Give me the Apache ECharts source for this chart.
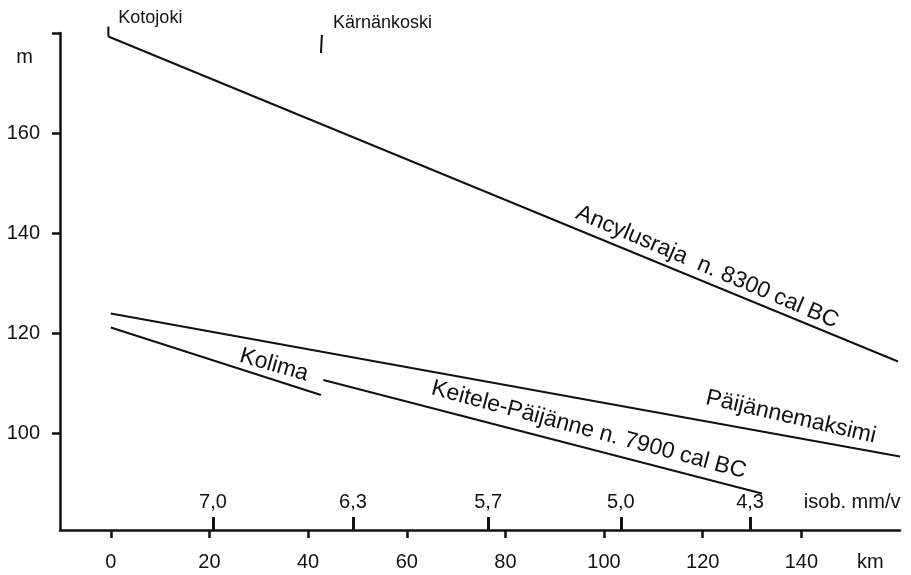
<!DOCTYPE html>
<html>
<head>
<meta charset="utf-8">
<script src="https://cdn.jsdelivr.net/npm/echarts@6/dist/echarts.min.js"></script>
<style>html,body{margin:0;padding:0;background:#fff}#c{width:911px;height:575px}</style>
</head>
<body>
<div id="c"></div>
<script>
// ---- data ----
const kmTicks = [0, 20, 40, 60, 80, 100, 120, 140];
const kmUnitAt = 154;
const mTicks = [100, 120, 140, 160, 180];
const mTickLabels = ['100', '120', '140', '160', ''];
const isobKm = [20.7, 49.1, 76.5, 103.4, 129.6];
const isobLabels = ['7,0', '6,3', '5,7', '5,0', '4,3'];
const isobUnitAt = 150.3;

const ancylusKm = [-0.5, 159.6];
const ancylusM = [179.3, 114.3];
const maksimiKm = [0, 160.0];
const maksimiM = [123.9, 95.3];
const kolimaKm = [0, 42.6];
const kolimaM = [121.1, 107.6];
const keiteleKm = [43.1, 132.0];
const keiteleM = [110.6, 87.9];

const kotojokiKm = [-0.5, -0.5];
const kotojokiM = [181.3, 179.3];
const karnanKm = [42.8, 42.6];
const karnanM = [179.6, 176.0];

const captionText = ['Ancylusraja  n. 8300 cal BC', 'Kolima', 'Keitele-Päijänne n. 7900 cal BC', 'Päijännemaksimi'];
const captionKm = [120.9, 33.1, 96.9, 137.9];
const captionM = [133.2, 113.6, 100.6, 103.2];

// ---- build ----
const pairs = (xs, ys) => xs.map((x, i) => [x, ys[i]]);
const captionRotate = [-23, -16, -15, -13];
const captionSize = [23, 23, 23, 23];
const ink = '#111';
const font = 'Liberation Sans, Arial, sans-serif';
const tickFont = 20;

const lineSeries = (name, data) => ({
  name, type: 'line', data, symbol: 'circle', symbolSize: 0, showSymbol: true, silent: true, clip: false,
  lineStyle: { color: ink, width: 2 }, itemStyle: { color: ink, opacity: 1 }
});
const placeLabel = (text, dist, off) => ({
  show: true, formatter: text, position: 'right', distance: dist, offset: off,
  color: ink, fontSize: 18, fontFamily: font, textBorderWidth: 0, opacity: 1
});

const chart = echarts.init(document.getElementById('c'), null, { renderer: 'canvas' });
chart.setOption({
  animation: false,
  backgroundColor: '#fff',
  grid: { left: 60, right: 11, top: 33, bottom: 45, containLabel: false },
  xAxis: [{
    type: 'value', min: -10.3, max: 160,
    splitLine: { show: false },
    axisLine: { show: true, onZero: false, lineStyle: { color: ink, width: 2.5 } },
    axisTick: { show: true, customValues: kmTicks, length: 8, lineStyle: { color: ink, width: 2.5 } },
    axisLabel: {
      customValues: kmTicks.concat([kmUnitAt]), margin: 22, color: ink, fontSize: tickFont, fontFamily: font,
      formatter: v => v === kmUnitAt ? 'km' : String(v)
    }
  }, {
    type: 'value', min: -10.3, max: 160, position: 'bottom',
    splitLine: { show: false },
    axisLine: { show: false },
    axisTick: { show: true, inside: true, customValues: isobKm, length: 13, lineStyle: { color: ink, width: 3 } },
    axisLabel: {
      inside: true, customValues: isobKm.concat([isobUnitAt]), margin: 18, color: ink, fontSize: tickFont, fontFamily: font,
      formatter: v => { if (v === isobUnitAt) return 'isob. mm/v'; const i = isobKm.indexOf(v); return i >= 0 ? isobLabels[i] : ''; }
    }
  }],
  yAxis: {
    type: 'value', min: 80.6, max: 180,
    splitLine: { show: false },
    axisLine: { show: true, onZero: false, lineStyle: { color: ink, width: 2.5 } },
    axisTick: { show: true, customValues: mTicks, length: 8, lineStyle: { color: ink, width: 2.5 } },
    axisLabel: {
      customValues: mTicks, margin: 20, color: ink, fontSize: tickFont, fontFamily: font,
      formatter: v => { const i = mTicks.indexOf(v); return i >= 0 ? mTickLabels[i] : ''; }
    },
    name: 'm', nameLocation: 'end', nameGap: -24,
    nameTextStyle: { color: ink, fontSize: tickFont, fontFamily: font, align: 'right', verticalAlign: 'middle', padding: [0, 27, 0, 0] }
  },
  series: [
    lineSeries('Ancylusraja', pairs(ancylusKm, ancylusM)),
    lineSeries('Päijännemaksimi', pairs(maksimiKm, maksimiM)),
    lineSeries('Kolima', pairs(kolimaKm, kolimaM)),
    lineSeries('Keitele-Päijänne', pairs(keiteleKm, keiteleM)),
    lineSeries('Kotojoki', pairs(kotojokiKm, kotojokiM).map((p, i) => i === 0 ?
      { value: p, label: placeLabel('Kotojoki', 10, [0, -8]) } : p)),
    lineSeries('Kärnänkoski', pairs(karnanKm, karnanM).map((p, i) => i === 0 ?
      { value: p, label: placeLabel('Kärnänkoski', 11, [0, -12]) } : p)),
    {
      name: 'captions', type: 'scatter', symbolSize: 0, silent: true, clip: false,
      itemStyle: { color: ink, opacity: 1 },
      data: captionText.map((t, i) => ({
        value: [captionKm[i], captionM[i]],
        label: {
          show: true, position: 'inside', formatter: t, rotate: captionRotate[i],
          color: ink, fontSize: captionSize[i], fontFamily: font, textBorderWidth: 0, opacity: 1
        }
      }))
    }
  ]
});
</script>
</body>
</html>
